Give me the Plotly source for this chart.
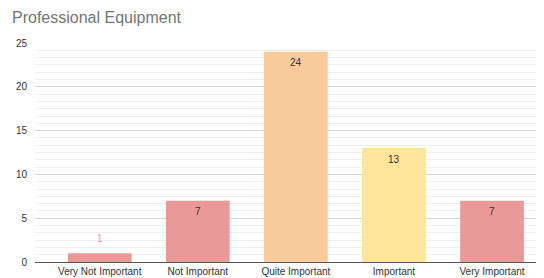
import plotly.graph_objects as go

categories = ["Very Not Important", "Not Important", "Quite Important", "Important", "Very Important"]
values = [1, 7, 24, 13, 7]
bar_colors = ["#EA9999", "#EA9999", "#F9CB9C", "#FFE599", "#EA9999"]
y_ticks = [0, 5, 10, 15, 20, 25]

# The page body has an 8px default margin, so the figure is sized to fit the 544x278 window.
W, H = 536, 270

fig = go.Figure()
fig.add_trace(go.Bar(
    x=categories, y=values,
    marker=dict(color=bar_colors, line=dict(width=0)),
    width=0.65,
    hoverinfo="skip",
))

annotations = []
for c, v in zip(categories, values):
    outside = v < 3
    annotations.append(dict(
        x=c, y=v, xref="x", yref="y", text=str(v), showarrow=False,
        yshift=15 if outside else -11,
        font=dict(family="Liberation Sans, Arial, sans-serif", size=10,
                  color="#EA9999" if outside else "#333333"),
    ))

fig.update_layout(
    width=W, height=H,
    margin=dict(l=27, r=0, t=35, b=16),
    paper_bgcolor="white", plot_bgcolor="white",
    showlegend=False,
    title=dict(text="Professional Equipment", x=4 / W, xanchor="left", y=1 - 9.5 / H, yanchor="middle",
               font=dict(family="Liberation Sans, Arial, sans-serif", size=16, color="#757575")),
    font=dict(family="Liberation Sans, Arial, sans-serif", size=10, color="#444444"),
    annotations=annotations,
    xaxis=dict(
        range=[-0.66, 4.53], showgrid=False, automargin=False,
        showline=True, linecolor="#555555", linewidth=1,
        tickfont=dict(size=10, color="#333333"), ticks="",
    ),
    yaxis=dict(
        range=[0, 25], tickvals=y_ticks, automargin=False,
        showgrid=True, gridcolor="#d6d6d6", gridwidth=1,
        zeroline=False, showline=False,
        ticks="outside", ticklen=5, tickcolor="rgba(0,0,0,0)",
        tickfont=dict(size=10, color="#333333"),
        minor=dict(dtick=5/6, tick0=0, showgrid=True, gridcolor="#efefef", gridwidth=1),
    ),
)

fig.write_html("out.html")
